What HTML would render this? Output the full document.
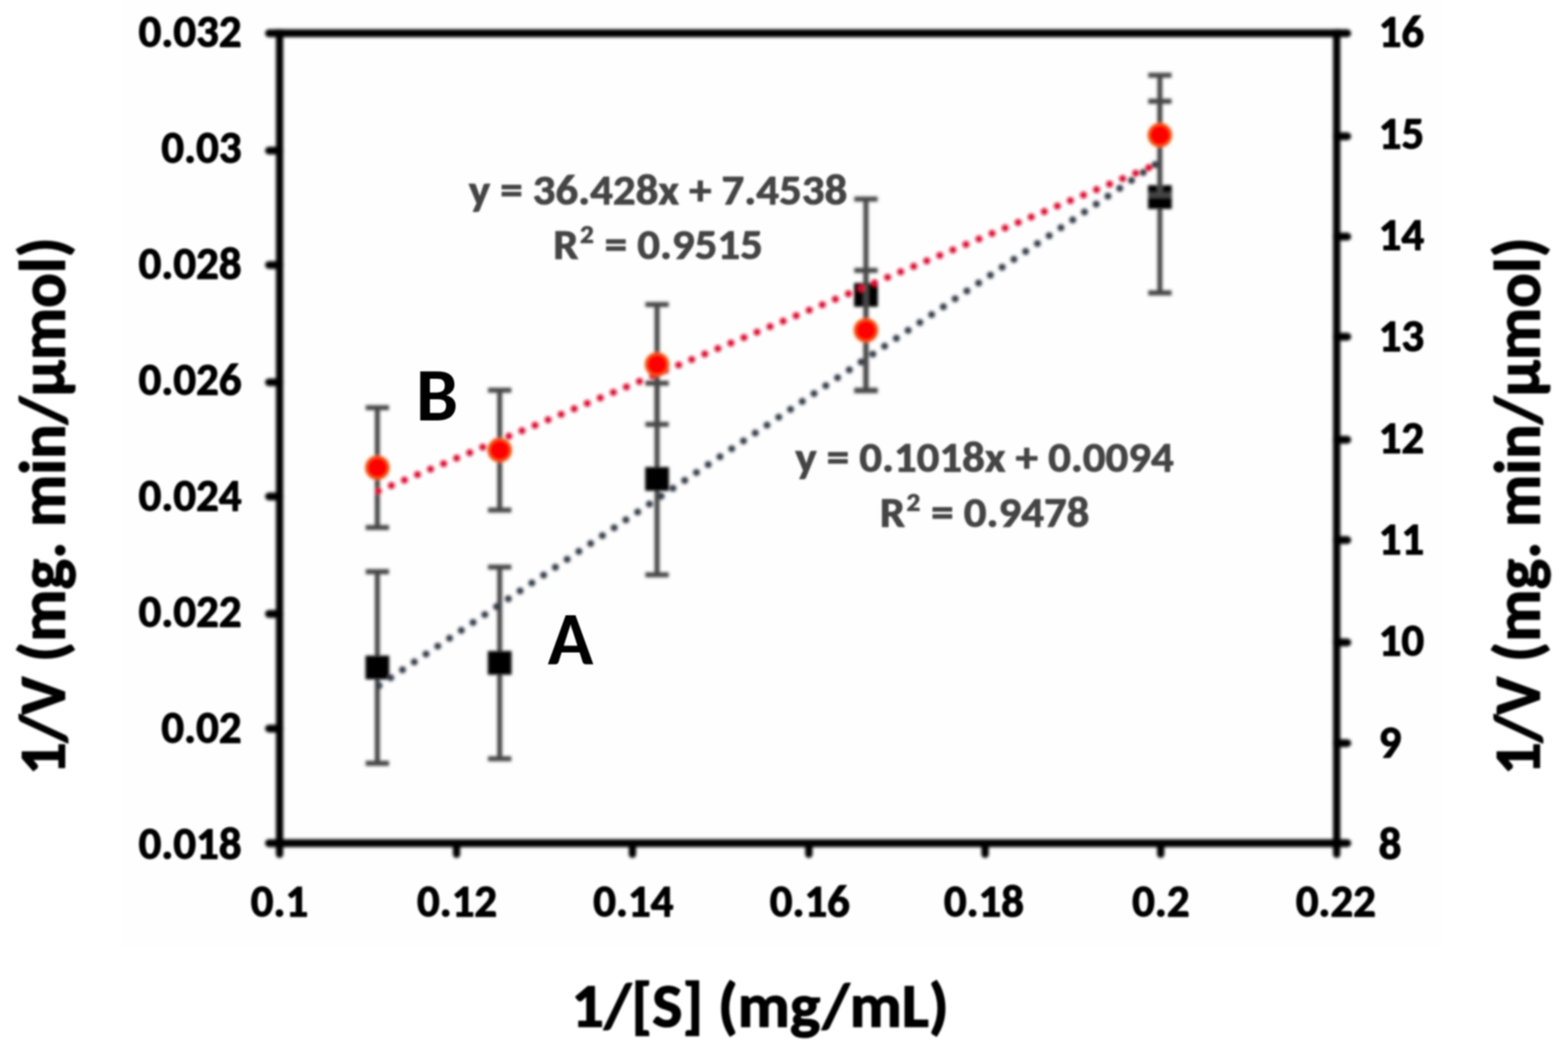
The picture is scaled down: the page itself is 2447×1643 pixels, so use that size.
<!DOCTYPE html><html><head><meta charset="utf-8"><title>Lineweaver-Burk plot</title><style>html,body{margin:0;padding:0;background:#fff;}svg{display:block;}</style></head><body>
<svg width="2447" height="1643" viewBox="0 0 2447 1643">
<defs><filter id="bl" filterUnits="userSpaceOnUse" x="0" y="0" width="2447" height="1643"><feGaussianBlur stdDeviation="2.5"/></filter><filter id="bt" filterUnits="userSpaceOnUse" x="0" y="0" width="2447" height="1643"><feGaussianBlur stdDeviation="1.8"/></filter><filter id="bb" filterUnits="userSpaceOnUse" x="0" y="0" width="2447" height="1643"><feGaussianBlur stdDeviation="1.3"/></filter></defs>
<rect x="0" y="0" width="2447" height="1643" fill="#ffffff"/>
<rect x="190" y="0" width="2060" height="1478" fill="#fefefe"/>
<g filter="url(#bl)"><path d="M588.9 892.0V1191.0M570.7 892.0H607.1M570.7 1191.0H607.1" stroke="#474747" stroke-width="7.8" fill="none"/><path d="M779.8 884.8V1183.8M761.6 884.8H798.0M761.6 1183.8H798.0" stroke="#474747" stroke-width="7.8" fill="none"/><path d="M1025.4 597.8V896.8M1007.2 597.8H1043.6M1007.2 896.8H1043.6" stroke="#474747" stroke-width="7.8" fill="none"/><path d="M1351.4 310.6V609.6M1333.2 310.6H1369.6M1333.2 609.6H1369.6" stroke="#474747" stroke-width="7.8" fill="none"/><path d="M1810.1 158.0V457.0M1791.9 158.0H1828.3M1791.9 457.0H1828.3" stroke="#474747" stroke-width="7.8" fill="none"/><rect x="570.4" y="1023.0" width="37" height="37" fill="#000"/><rect x="761.3" y="1015.8" width="37" height="37" fill="#000"/><rect x="1006.9" y="728.8" width="37" height="37" fill="#000"/><rect x="1332.9" y="441.6" width="37" height="37" fill="#000"/><rect x="1791.6" y="289.0" width="37" height="37" fill="#000"/><line x1="589.3" y1="1071.2" x2="1810.4" y2="251.5" stroke="#363c4a" stroke-width="11" stroke-linecap="round" stroke-dasharray="0 22.1" stroke-dashoffset="-2.6"/><path d="M588.9 636.2V823.2M570.7 636.2H607.1M570.7 823.2H607.1" stroke="#474747" stroke-width="7.8" fill="none"/><path d="M779.8 608.9V795.9M761.6 608.9H798.0M761.6 795.9H798.0" stroke="#474747" stroke-width="7.8" fill="none"/><path d="M1025.4 475.2V662.2M1007.2 475.2H1043.6M1007.2 662.2H1043.6" stroke="#474747" stroke-width="7.8" fill="none"/><path d="M1351.4 421.9V608.9M1333.2 421.9H1369.6M1333.2 608.9H1369.6" stroke="#474747" stroke-width="7.8" fill="none"/><path d="M1810.1 117.3V304.3M1791.9 117.3H1828.3M1791.9 304.3H1828.3" stroke="#474747" stroke-width="7.8" fill="none"/><line x1="589.3" y1="766.6" x2="1810.4" y2="254.2" stroke="#dc0f33" stroke-width="11" stroke-linecap="round" stroke-dasharray="0 22.1" stroke-dashoffset="-1.2"/><circle cx="588.9" cy="729.7" r="17.5" fill="#ff0000" stroke="#ee5f1c" stroke-width="3.5"/><circle cx="779.8" cy="702.4" r="17.5" fill="#ff0000" stroke="#ee5f1c" stroke-width="3.5"/><circle cx="1025.4" cy="568.7" r="17.5" fill="#ff0000" stroke="#ee5f1c" stroke-width="3.5"/><circle cx="1351.4" cy="515.4" r="17.5" fill="#ff0000" stroke="#ee5f1c" stroke-width="3.5"/><circle cx="1810.1" cy="210.8" r="17.5" fill="#ff0000" stroke="#ee5f1c" stroke-width="3.5"/></g>
<g stroke="#000" filter="url(#bl)"><line x1="430.60" y1="51.95" x2="2091.70" y2="51.95" stroke-width="12.2"/><line x1="430.60" y1="1315.6" x2="2091.70" y2="1315.6" stroke-width="12.2"/><line x1="436.3" y1="45.85" x2="436.3" y2="1321.70" stroke-width="11.4"/><line x1="2086.0" y1="45.85" x2="2086.0" y2="1321.70" stroke-width="11.4"/><line x1="436.3" y1="51.95" x2="419.8" y2="51.95" stroke-width="12.2" stroke-linecap="round"/><line x1="436.3" y1="235.00" x2="419.8" y2="235.00" stroke-width="12.2" stroke-linecap="round"/><line x1="436.3" y1="413.50" x2="419.8" y2="413.50" stroke-width="12.2" stroke-linecap="round"/><line x1="436.3" y1="596.50" x2="419.8" y2="596.50" stroke-width="12.2" stroke-linecap="round"/><line x1="436.3" y1="774.70" x2="419.8" y2="774.70" stroke-width="12.2" stroke-linecap="round"/><line x1="436.3" y1="957.90" x2="419.8" y2="957.90" stroke-width="12.2" stroke-linecap="round"/><line x1="436.3" y1="1136.80" x2="419.8" y2="1136.80" stroke-width="12.2" stroke-linecap="round"/><line x1="436.3" y1="1315.60" x2="419.8" y2="1315.60" stroke-width="12.2" stroke-linecap="round"/><line x1="2086.0" y1="51.95" x2="2102.5" y2="51.95" stroke-width="12.2" stroke-linecap="round"/><line x1="2086.0" y1="212.70" x2="2102.5" y2="212.70" stroke-width="12.2" stroke-linecap="round"/><line x1="2086.0" y1="369.20" x2="2102.5" y2="369.20" stroke-width="12.2" stroke-linecap="round"/><line x1="2086.0" y1="525.40" x2="2102.5" y2="525.40" stroke-width="12.2" stroke-linecap="round"/><line x1="2086.0" y1="686.10" x2="2102.5" y2="686.10" stroke-width="12.2" stroke-linecap="round"/><line x1="2086.0" y1="842.70" x2="2102.5" y2="842.70" stroke-width="12.2" stroke-linecap="round"/><line x1="2086.0" y1="1002.40" x2="2102.5" y2="1002.40" stroke-width="12.2" stroke-linecap="round"/><line x1="2086.0" y1="1159.55" x2="2102.5" y2="1159.55" stroke-width="12.2" stroke-linecap="round"/><line x1="2086.0" y1="1315.60" x2="2102.5" y2="1315.60" stroke-width="12.2" stroke-linecap="round"/><line x1="436.30" y1="1315.6" x2="436.30" y2="1332.8999999999999" stroke-width="11.4" stroke-linecap="round"/><line x1="712.50" y1="1315.6" x2="712.50" y2="1332.8999999999999" stroke-width="11.4" stroke-linecap="round"/><line x1="987.00" y1="1315.6" x2="987.00" y2="1332.8999999999999" stroke-width="11.4" stroke-linecap="round"/><line x1="1262.30" y1="1315.6" x2="1262.30" y2="1332.8999999999999" stroke-width="11.4" stroke-linecap="round"/><line x1="1537.30" y1="1315.6" x2="1537.30" y2="1332.8999999999999" stroke-width="11.4" stroke-linecap="round"/><line x1="1811.40" y1="1315.6" x2="1811.40" y2="1332.8999999999999" stroke-width="11.4" stroke-linecap="round"/><line x1="2086.00" y1="1315.6" x2="2086.00" y2="1332.8999999999999" stroke-width="11.4" stroke-linecap="round"/></g>
<g font-family="Carlito, &quot;Liberation Sans&quot;, sans-serif" font-weight="bold" filter="url(#bt)" font-size="70" fill="#000" stroke="#000" stroke-width="1.6" stroke-linejoin="round"><text x="376.9" y="72.7" text-anchor="end" textLength="160.62" lengthAdjust="spacingAndGlyphs">0.032</text><text x="376.9" y="253.8" text-anchor="end" textLength="125.14" lengthAdjust="spacingAndGlyphs">0.03</text><text x="376.9" y="434.9" text-anchor="end" textLength="160.62" lengthAdjust="spacingAndGlyphs">0.028</text><text x="376.9" y="616.0" text-anchor="end" textLength="160.62" lengthAdjust="spacingAndGlyphs">0.026</text><text x="376.9" y="797.1" text-anchor="end" textLength="160.62" lengthAdjust="spacingAndGlyphs">0.024</text><text x="376.9" y="978.2" text-anchor="end" textLength="160.62" lengthAdjust="spacingAndGlyphs">0.022</text><text x="376.9" y="1159.3" text-anchor="end" textLength="125.14" lengthAdjust="spacingAndGlyphs">0.02</text><text x="376.9" y="1340.4" text-anchor="end" textLength="160.62" lengthAdjust="spacingAndGlyphs">0.018</text><text x="2151.5" y="73.1" textLength="70.97" lengthAdjust="spacingAndGlyphs">16</text><text x="2151.5" y="231.5" textLength="70.97" lengthAdjust="spacingAndGlyphs">15</text><text x="2151.5" y="389.8" textLength="70.97" lengthAdjust="spacingAndGlyphs">14</text><text x="2151.5" y="548.2" textLength="70.97" lengthAdjust="spacingAndGlyphs">13</text><text x="2151.5" y="706.5" textLength="70.97" lengthAdjust="spacingAndGlyphs">12</text><text x="2151.5" y="864.9" textLength="70.97" lengthAdjust="spacingAndGlyphs">11</text><text x="2151.5" y="1023.3" textLength="70.97" lengthAdjust="spacingAndGlyphs">10</text><text x="2151.5" y="1181.6" textLength="35.48" lengthAdjust="spacingAndGlyphs">9</text><text x="2151.5" y="1340.0" textLength="35.48" lengthAdjust="spacingAndGlyphs">8</text><text x="436.2" y="1430.2" text-anchor="middle" textLength="89.66" lengthAdjust="spacingAndGlyphs">0.1</text><text x="713.3" y="1430.2" text-anchor="middle" textLength="125.14" lengthAdjust="spacingAndGlyphs">0.12</text><text x="988.4" y="1430.2" text-anchor="middle" textLength="125.14" lengthAdjust="spacingAndGlyphs">0.14</text><text x="1263.8" y="1430.2" text-anchor="middle" textLength="125.14" lengthAdjust="spacingAndGlyphs">0.16</text><text x="1535.5" y="1430.2" text-anchor="middle" textLength="125.14" lengthAdjust="spacingAndGlyphs">0.18</text><text x="1811.6" y="1430.2" text-anchor="middle" textLength="89.66" lengthAdjust="spacingAndGlyphs">0.2</text><text x="2084.7" y="1430.2" text-anchor="middle" textLength="125.14" lengthAdjust="spacingAndGlyphs">0.22</text></g>
<g font-family="Carlito, &quot;Liberation Sans&quot;, sans-serif" font-weight="bold" filter="url(#bt)" font-size="70" fill="#444" stroke="#444" stroke-width="1.3" stroke-linejoin="round"><text transform="translate(1026.9 318.8) scale(1 0.955)" text-anchor="middle" textLength="590.48" lengthAdjust="spacingAndGlyphs">y = 36.428x + 7.4538</text><text transform="translate(1026.9 403.6) scale(1 0.955)" text-anchor="middle">R<tspan font-size="42" dx="2.4" dy="-26">2</tspan><tspan dx="1.5" dy="26"> = 0.9515</tspan></text><text transform="translate(1536.5 735.8) scale(1 0.955)" text-anchor="middle" textLength="590.48" lengthAdjust="spacingAndGlyphs">y = 0.1018x + 0.0094</text><text transform="translate(1536.5 822.2) scale(1 0.955)" text-anchor="middle">R<tspan font-size="42" dx="2.4" dy="-26">2</tspan><tspan dx="1.5" dy="26"> = 0.9478</tspan></text></g>
<g font-family="Carlito, &quot;Liberation Sans&quot;, sans-serif" font-weight="bold" filter="url(#bb)" font-size="117.6" fill="#000"><text x="854.8" y="1035.8" textLength="71.27" lengthAdjust="spacingAndGlyphs">A</text><text x="649" y="656.3" textLength="65.92" lengthAdjust="spacingAndGlyphs">B</text></g>
<g font-family="Carlito, &quot;Liberation Sans&quot;, sans-serif" font-weight="bold" filter="url(#bt)" font-size="100" fill="#000" stroke="#000" stroke-width="1.8" stroke-linejoin="round"><text transform="translate(1186.2 1602.2) scale(1 0.963)" text-anchor="middle" textLength="589.00" lengthAdjust="spacingAndGlyphs">1/[S] (mg/mL)</text><text transform="translate(100.8 789.75) rotate(-90)" text-anchor="middle" font-size="100.6" textLength="839.28" lengthAdjust="spacingAndGlyphs">1/V (mg. min/μmol)</text><text transform="translate(2402.5 789.75) rotate(-90)" text-anchor="middle" font-size="100.6" textLength="839.28" lengthAdjust="spacingAndGlyphs">1/V (mg. min/μmol)</text></g>
</svg></body></html>
